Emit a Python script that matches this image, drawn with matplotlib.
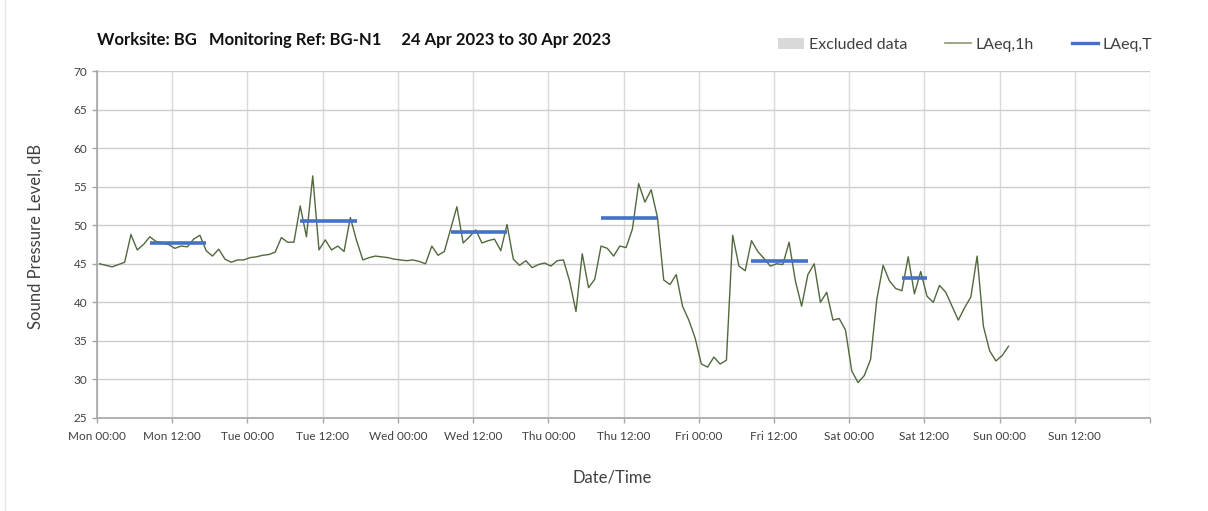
import pandas as pd
import matplotlib
matplotlib.use("Agg")
import matplotlib.pyplot as plt
from matplotlib.patches import Patch
from matplotlib.lines import Line2D

# hourly LAeq values, starting Mon 24 Apr 2023
laeq_1h = [
    45.0, 44.8, 44.6, 44.9, 45.2, 48.8, 46.8, 47.5, 48.5, 47.9, 47.7, 47.5,
    47.0, 47.3, 47.2, 48.2, 48.7, 46.7, 46.0, 46.9, 45.6, 45.2, 45.5, 45.5,
    45.8, 45.9, 46.1, 46.2, 46.5, 48.4, 47.8, 47.8, 52.5, 48.5, 56.4, 46.8,
    48.1, 46.8, 47.3, 46.6, 51.0, 48.0, 45.5, 45.8, 46.0, 45.9, 45.8, 45.6,
    45.5, 45.4, 45.5, 45.3, 45.0, 47.3, 46.1, 46.6, 49.5, 52.4, 47.7, 48.5,
    49.4, 47.7, 48.0, 48.2, 46.7, 50.1, 45.6, 44.8, 45.4, 44.5, 44.9, 45.1,
    44.7, 45.4, 45.5, 42.7, 38.8, 46.3, 41.9, 43.0, 47.3, 47.0, 46.0, 47.3,
    47.1, 49.5, 55.4, 53.0, 54.6, 51.0, 42.9, 42.3, 43.6, 39.5, 37.7, 35.4,
    32.0, 31.6, 32.9, 32.0, 32.5, 48.7, 44.7, 44.1, 48.0, 46.6, 45.7, 44.7,
    45.0, 44.9, 47.8, 42.8, 39.5, 43.6, 45.0, 40.0, 41.3, 37.7, 37.9, 36.4,
    31.1, 29.6, 30.5, 32.6, 40.4, 44.8, 42.8, 41.8, 41.5, 45.9, 41.1, 44.0,
    40.8, 40.0, 42.2, 41.3, 39.5, 37.7, 39.3, 40.7, 46.0, 36.9, 33.7, 32.4,
    33.1, 34.3,
]

# LAeq,T periods (index of first and last hourly value) and levels
period_start = [8, 32, 56, 80, 104, 128]
period_end = [17, 41, 65, 89, 113, 132]
laeq_t = [47.7, 50.5, 49.1, 51.0, 45.3, 43.1]

y_ticks = [25, 30, 35, 40, 45, 50, 55, 60, 65, 70]
title = "Worksite: BG   Monitoring Ref: BG-N1     24 Apr 2023 to 30 Apr 2023"

times = pd.date_range("2023-04-24 00:25", periods=len(laeq_1h), freq="h")
x_ticks = pd.date_range("2023-04-24 00:00", "2023-05-01 00:00", freq="12h")
x_labels = [t.strftime("%a %H:%M") for t in x_ticks[:-1]] + [""]

plt.rcParams["font.family"] = ["Lato", "DejaVu Sans"]

fig = plt.figure(figsize=(12.08, 5.11), dpi=100)
ax = fig.add_axes([0.0803, 0.182, 0.8717, 0.679])

line_col = "#51693d"
blue = "#4472c4"

ax.plot(times, laeq_1h, color=line_col, lw=1.0, zorder=3)
for s, e, v in zip(period_start, period_end, laeq_t):
    ax.plot([times[s], times[e]], [v, v], color=blue, lw=2.6,
            solid_capstyle="butt", zorder=4)

ax.set_xlim(x_ticks[0], x_ticks[-1])
ax.set_ylim(25, 70)
ax.set_yticks(y_ticks)
ax.set_xticks(x_ticks)
ax.set_xticklabels(x_labels)

ax.yaxis.grid(True, color="#cccccc", lw=1.0)
ax.xaxis.grid(True, color="#dadada", lw=1.0)
ax.set_axisbelow(True)
for side in ["top", "right"]:
    ax.spines[side].set_visible(False)
for side in ["left", "bottom"]:
    ax.spines[side].set_color("#a6a6a6")
    ax.spines[side].set_linewidth(1.2)
ax.tick_params(axis="both", colors="#a6a6a6", labelcolor="#404040",
               labelsize=8.5, length=3.5, width=1)
ax.tick_params(axis="x", pad=6)

ax.set_ylabel("Sound Pressure Level, dB", fontsize=12, color="#404040")
ax.yaxis.set_label_coords(-0.051, 0.522)
ax.set_xlabel("Date/Time", fontsize=12, color="#404040")
ax.xaxis.set_label_coords(0.489, -0.148)

fig.text(0.0803, 1 - 40 / 511, title, fontsize=12, fontweight="bold",
         color="#111111", va="center", ha="left")

handles = [
    Patch(facecolor="#d9d9d9", edgecolor="none"),
    Line2D([], [], color="#8a9a72", lw=1.2),
    Line2D([], [], color=blue, lw=2.4),
]
fig.legend(handles, ["Excluded data", "LAeq,1h", "LAeq,T"], ncol=3,
           loc="center", bbox_to_anchor=(0.799, 1 - 45 / 511), frameon=False,
           fontsize=11.5, handlelength=1.6, handletextpad=0.3,
           columnspacing=2.4, labelcolor="#404040")

# faint frame edge on the left of the original image
fig.add_artist(Line2D([0.0045, 0.0045], [0.0, 1.0], color="#e6e6e6", lw=1,
                      transform=fig.transFigure))

fig.savefig("out.png", dpi=100, facecolor="white")
